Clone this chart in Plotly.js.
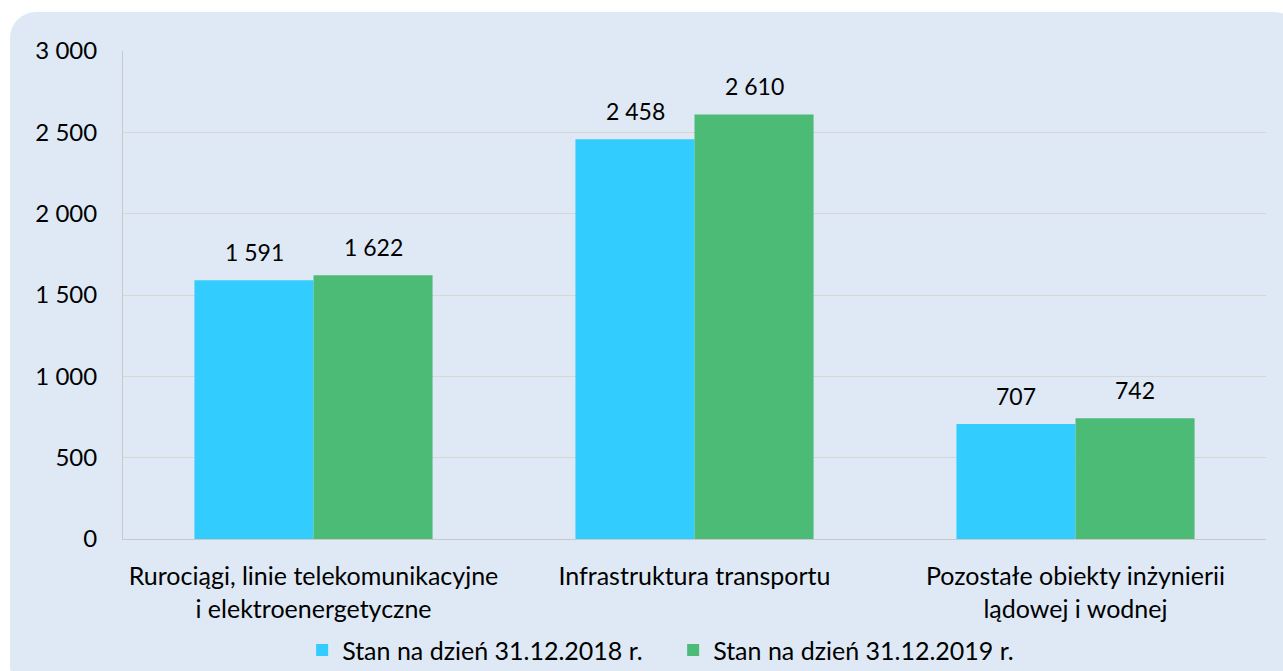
<!DOCTYPE html>
<html>
<head>
<meta charset="utf-8">
<script src="https://cdn.plot.ly/plotly-3.0.1.min.js"></script>
<style>
  html, body { margin: 0; padding: 0; background: #ffffff; }
  #bg { position: absolute; left: 10px; top: 12px; width: 1290px; height: 680px; background: #DEE9F5; border-radius: 26px; }
  #chart { position: absolute; left: 0; top: 0; width: 1283px; height: 671px; }
</style>
</head>
<body>
<div id="bg"></div>
<div id="chart"></div>
<script>
const categories = [
  "Rurociągi, linie telekomunikacyjne<br>i elektroenergetyczne",
  "Infrastruktura transportu",
  "Pozostałe obiekty inżynierii<br>lądowej i wodnej"
];
const seriesNames = ["Stan na dzień 31.12.2018 r.", "Stan na dzień 31.12.2019 r."];
const values2018 = [1591, 2458, 707];
const values2019 = [1622, 2610, 742];
const yTicks = [0, 500, 1000, 1500, 2000, 2500, 3000];

const FONT = "Lato, 'Open Sans', sans-serif";
const colors = ["#33CCFF", "#4CBB76"];
const allSeries = [values2018, values2019];

const traces = allSeries.map((vals, i) => ({
  type: "bar",
  name: seriesNames[i],
  x: categories,
  y: vals,
  marker: { color: colors[i] },
  hoverinfo: "skip"
}));

// data labels, placed above each bar in its group
const fmt = v => String(v).replace(/\B(?=(\d{3})+(?!\d))/g, " ");
const annotations = [];
allSeries.forEach((vals, i) => {
  vals.forEach((v, j) => {
    annotations.push({
      x: categories[j], y: v, xref: "x", yref: "y",
      text: fmt(v), showarrow: false,
      xshift: i === 0 ? -59.5 : 59.5,
      yanchor: "bottom", yshift: 12,
      font: { family: FONT, size: 23, color: "#000000" }
    });
  });
});

const layout = {
  width: 1283,
  height: 671,
  margin: { l: 123, r: 17, t: 51, b: 132 },
  paper_bgcolor: "rgba(0,0,0,0)",
  plot_bgcolor: "rgba(0,0,0,0)",
  separators: ", ",
  barmode: "group",
  bargap: 0.375,
  bargroupgap: 0,
  font: { family: FONT, size: 20, color: "#000000" },
  annotations: annotations,
  showlegend: true,
  legend: {
    orientation: "h",
    x: 0.2355, xref: "container", xanchor: "left",
    y: 0.031, yref: "container", yanchor: "middle",
    font: { family: FONT, size: 25, color: "#000000" },
    itemwidth: 30,
    entrywidth: 326,
    entrywidthmode: "pixels",
    traceorder: "normal"
  },
  xaxis: {
    showline: true, linecolor: "#C8C8C8", linewidth: 1,
    ticks: "", showgrid: false,
    ticklabelstandoff: 15,
    tickfont: { family: FONT, size: 25, color: "#000000" }
  },
  yaxis: {
    range: [0, 3000],
    tickvals: yTicks,
    tickformat: ",d",
    showline: true, linecolor: "#C8C8C8", linewidth: 1,
    gridcolor: "#D6D6D6", gridwidth: 1,
    zeroline: false,
    ticks: "",
    ticklabelstandoff: 20,
    tickfont: { family: FONT, size: 24, color: "#000000" }
  }
};

Plotly.newPlot("chart", traces, layout, { displayModeBar: false, staticPlot: true });
</script>
</body>
</html>
